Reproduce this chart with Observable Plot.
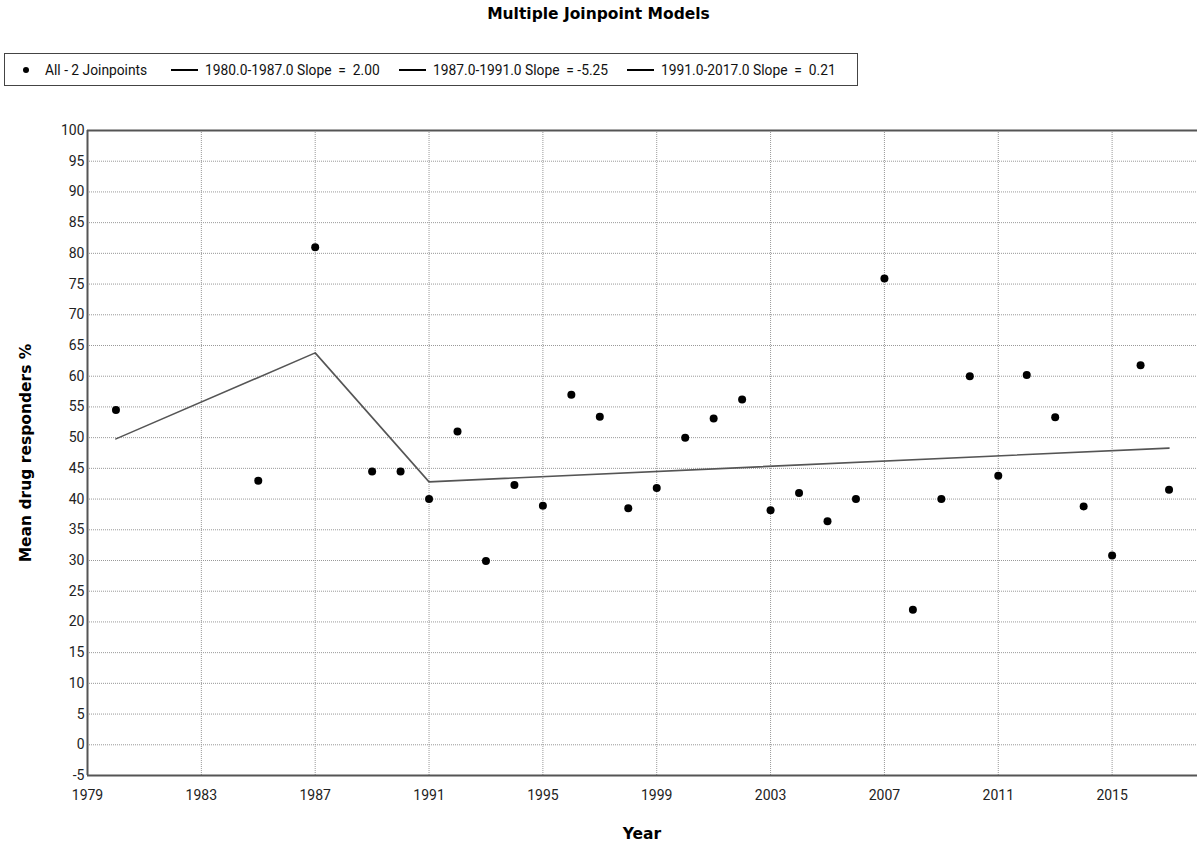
<!DOCTYPE html>
<html>
<head>
<meta charset="utf-8">
<script src="https://cdn.jsdelivr.net/npm/d3@7"></script>
<script src="https://cdn.jsdelivr.net/npm/@observablehq/plot@0.6"></script>
<style>
  body { margin: 0; background: #fff; font-family: Roboto, "Liberation Sans", sans-serif; }
  #wrap { position: relative; width: 1197px; height: 845px; overflow: hidden; }
  #title { position: absolute; left: 0; width: 1197px; top: 5px; text-align: center; font: bold 15.5px "DejaVu Sans", sans-serif; color: #000; }
  #legend { position: absolute; left: 4px; top: 53px; width: 852px; height: 31px; border: 1.5px solid #444; background: #fff; font: 13.8px Roboto, sans-serif; color: #111; }
  .li { position: absolute; top: 0; height: 31px; display: flex; align-items: center; white-space: pre; }
  .sym-dot { display: inline-block; width: 6px; height: 6px; border-radius: 50%; background: #000; margin-right: 16px; margin-left: 18px; }
  .sym-line { display: inline-block; width: 27px; height: 2px; background: #000; margin-right: 7px; }
  #chart { position: absolute; left: 0; top: 100px; }
  #ylab { position: absolute; left: 17px; top: 453px; transform: translate(-50%,-50%) rotate(-90deg); transform-origin: center; font: bold 15.5px "DejaVu Sans", sans-serif; white-space: nowrap; margin-left: 9px; }
  #xlab { position: absolute; left: 642px; top: 825px; transform: translateX(-50%); font: bold 15.5px "DejaVu Sans", sans-serif; }
</style>
</head>
<body>
<div id="wrap">
  <div id="title"></div>
  <div id="legend"></div>
  <div id="chart"></div>
  <div id="ylab"></div>
  <div id="xlab"></div>
</div>
<script>
const title = "Multiple Joinpoint Models";
const xLabel = "Year";
const yLabel = "Mean drug responders %";

const years = [1980, 1985, 1987, 1989, 1990, 1991, 1992, 1993, 1994, 1995, 1996, 1997, 1998, 1999, 2000, 2001, 2002, 2003, 2004, 2005, 2006, 2007, 2008, 2009, 2010, 2011, 2012, 2013, 2014, 2015, 2016, 2017];
const values = [54.5, 43.0, 81.0, 44.5, 44.5, 40.0, 51.0, 29.9, 42.3, 38.9, 57.0, 53.4, 38.5, 41.8, 50.0, 53.1, 56.2, 38.2, 41.0, 36.4, 40.0, 75.9, 22.0, 40.0, 60.0, 43.8, 60.2, 53.3, 38.8, 30.8, 61.8, 41.5];

const joinYears = [1980, 1987, 1991, 2017];
const joinFit = [49.8, 63.8, 42.8, 48.3];

const legendLabels = ["All - 2 Joinpoints", "1980.0-1987.0 Slope  =  2.00", "1987.0-1991.0 Slope  = -5.25", "1991.0-2017.0 Slope  =  0.21"];
const legendLeft = [0, 166, 394, 622];

const xTicks = [1979, 1983, 1987, 1991, 1995, 1999, 2003, 2007, 2011, 2015];
const yTicks = d3.range(-5, 101, 5);

document.getElementById("title").textContent = title;
document.getElementById("xlab").textContent = xLabel;
document.getElementById("ylab").textContent = yLabel;

const leg = document.getElementById("legend");
legendLabels.forEach((lab, i) => {
  const d = document.createElement("div");
  d.className = "li";
  d.style.left = legendLeft[i] + "px";
  const s = document.createElement("span");
  s.className = i === 0 ? "sym-dot" : "sym-line";
  d.appendChild(s);
  const t = document.createElement("span");
  t.textContent = lab;
  d.appendChild(t);
  leg.appendChild(d);
});

const points = years.map((y, i) => ({year: y, value: values[i]}));
const fit = joinYears.map((y, i) => ({year: y, value: joinFit[i]}));

const grid = {stroke: "#999", strokeOpacity: 1, strokeWidth: 1, strokeDasharray: "1,1"};

const chart = Plot.plot({
  width: 1197,
  height: 745,
  marginTop: 30,
  marginBottom: 70,
  marginLeft: 87,
  marginRight: 0,
  style: {fontFamily: "Roboto, sans-serif", fontSize: "14px", color: "#222", background: "transparent", overflow: "visible"},
  x: {domain: [1979, 2018], label: null},
  y: {domain: [-5, 100], label: null},
  marks: [
    Plot.gridX(xTicks, {...grid}),
    Plot.gridY(yTicks, {...grid}),
    Plot.axisX(xTicks, {tickSize: 0, tickPadding: 15, tickFormat: d => String(d), fontSize: 14, fill: "#222"}),
    Plot.axisY(yTicks, {tickSize: 0, tickPadding: 3, tickFormat: d => String(d), fontSize: 14, fill: "#222"}),
    Plot.ruleX([1979], {stroke: "#555", strokeWidth: 2}),
    Plot.ruleY([-5], {stroke: "#555", strokeWidth: 2}),
    Plot.ruleY([100], {stroke: "#555", strokeWidth: 2}),
    Plot.line(fit, {x: "year", y: "value", stroke: "#555", strokeWidth: 1.6}),
    Plot.dot(points, {x: "year", y: "value", r: 4, fill: "#000", stroke: "none"})
  ]
});
document.getElementById("chart").appendChild(chart);
</script>
</body>
</html>
